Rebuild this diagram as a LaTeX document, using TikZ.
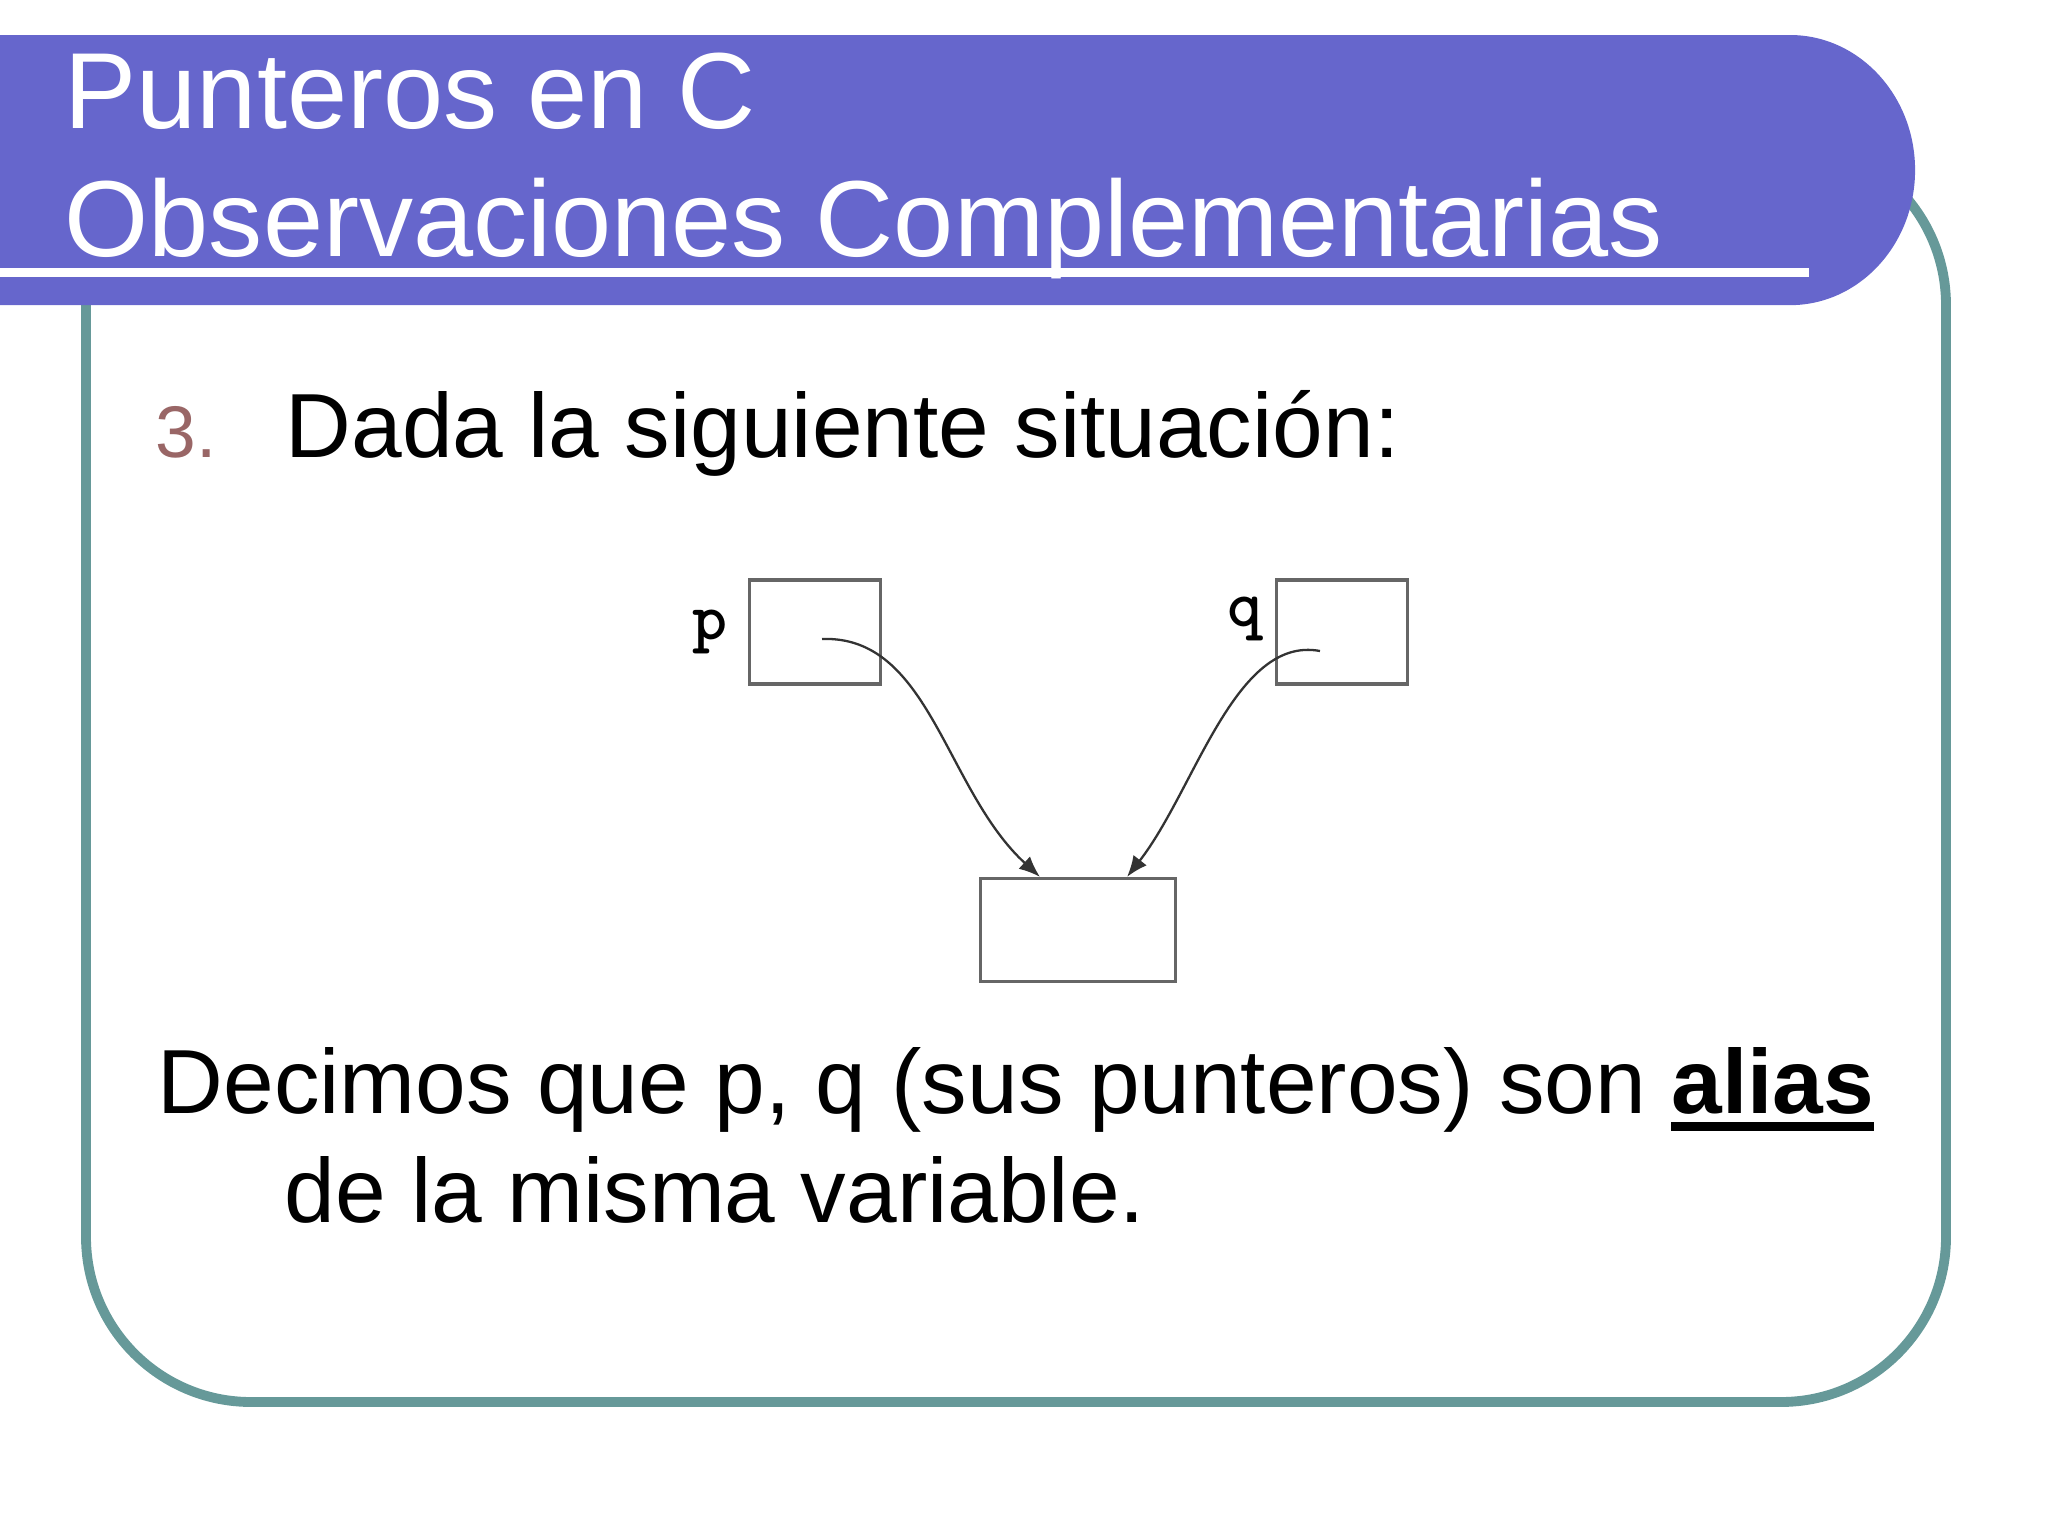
\documentclass[tikz,border=0pt]{standalone}
\usepackage{fontspec}
\setmainfont{Liberation Sans}
\usetikzlibrary{arrows.meta,positioning}
\definecolor{banner}{RGB}{102,102,204}
\definecolor{frame}{RGB}{102,153,153}
\definecolor{numcol}{RGB}{153,102,102}
\newcommand\aliasul[1]{\setbox0=\hbox{\bfseries #1}\rlap{\rule[-5.1pt]{\wd0}{2.6pt}}\box0}
\tikzset{
	titletext/.style={anchor=base west, inner sep=0pt, text=white, font=\fontsize{30.75}{36}\selectfont},
	bodytext/.style={anchor=base west, inner sep=0pt, font=\fontsize{25.9}{31}\selectfont},
	cell/.style={draw=black!60, line width=0.9pt, minimum width=1.31cm, minimum height=1.04cm},
	ptrlabel/.style={inner sep=0pt, font=\ttfamily\bfseries\fontsize{19}{22}\selectfont},
	pointer/.style={draw=black!80, line width=0.65pt, -{Latex[length=6pt,width=4.8pt]}}
}
\begin{document}
\begin{tikzpicture}[x=0.01cm, y=-0.01cm]
	\useasboundingbox (0,0) rectangle (2048,1536);
	\draw[frame, line width=2.8pt, rounded corners=1.65cm] (86,140) rectangle (1946,1402);
	\fill[banner] (0,35) -- (1790,35) arc[start angle=90, end angle=-90, x radius=1.25cm, y radius=1.35cm] -- (0,305) -- cycle;
	\fill[white] (0,268) rectangle (1809,277);
	\node[titletext] (title1) at (64,128) {Punteros en C};
	\node[titletext] (title2) at (64,256) {Observaciones Complementarias};
	\node[bodytext, text=numcol, font=\fontsize{20.8}{25}\selectfont] (num) at (155,457) {3.};
	\node[bodytext] (intro) at (285,457) {Dada la siguiente situación:};
	\node[cell] (pbox) at (815,632) {};
	\node[cell] (qbox) at (1342,632) {};
	\node[cell, minimum width=1.95cm, minimum height=1.03cm] (var) at (1078,930) {};
	\node[ptrlabel, left=0.2cm of pbox] (plab) {p};
	\node[ptrlabel, left=0.12cm of qbox, yshift=3.7pt] (qlab) {q};
	\coordinate (pstart) at (822,639);
	\coordinate (qstart) at (1320,651);
	\draw[pointer] (pstart) .. controls (930,635) and (945,790) .. ([xshift=-0.38cm]var.north);
	\draw[pointer] (qstart) .. controls (1235,635) and (1195,790) .. ([xshift=0.49cm]var.north);
	\node[bodytext] (decimos) at (157,1113) {Decimos que p, q (sus punteros) son \aliasul{alias}};
	\node[bodytext] (decimos2) at (284,1222) {de la misma variable.};
\end{tikzpicture}
\end{document}
